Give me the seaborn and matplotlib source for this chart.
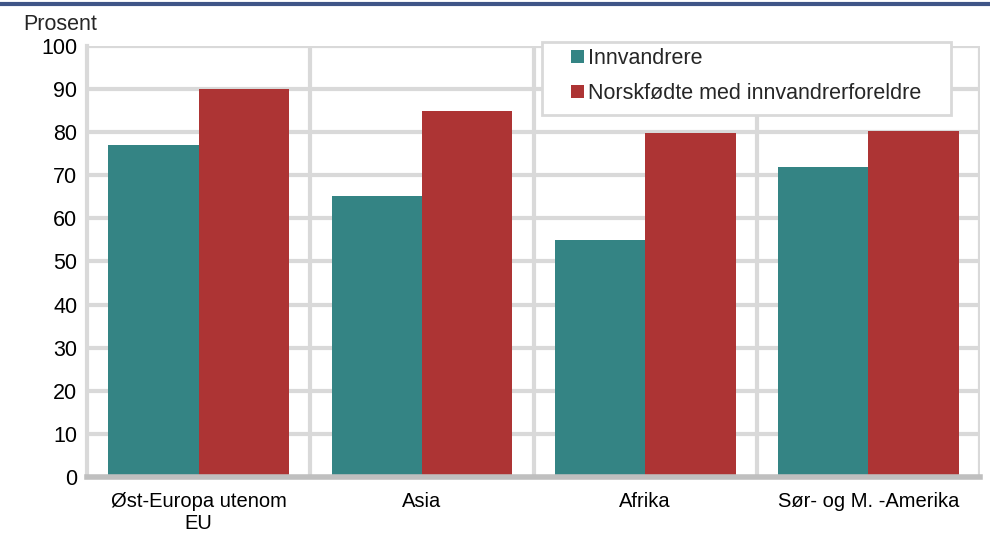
import pandas as pd
import matplotlib.pyplot as plt
import seaborn as sns
from matplotlib.lines import Line2D
from matplotlib.patches import Rectangle

# Data
regions = ['Øst-Europa utenom\nEU', 'Asia', 'Afrika', 'Sør- og M. -Amerika']
innvandrere = [77.0, 65.2, 55.0, 71.9]
norskfodte = [90.0, 84.9, 79.8, 80.3]
series = ['Innvandrere', 'Norskfødte med innvandrerforeldre']
colors = ['#348484', '#ad3434']

df = pd.DataFrame({
    'Region': regions * 2,
    'Serie': [series[0]] * 4 + [series[1]] * 4,
    'Prosent': innvandrere + norskfodte,
})

sns.set_style('white')
plt.rcParams['font.family'] = ['Liberation Sans', 'DejaVu Sans']

fig = plt.figure(figsize=(9.9, 5.38), dpi=100)
ax = fig.add_axes([0.088, 0.1134, 0.902, 0.8011])

sns.barplot(data=df, x='Region', y='Prosent', hue='Serie', palette=colors,
            width=0.81, gap=0, saturation=1, linewidth=0, ax=ax, zorder=3)

ax.set_ylim(0, 100)
ax.set_xlim(-0.5, 3.5)
ax.set_yticks(range(0, 101, 10))
ax.set_xlabel('')
ax.set_ylabel('')

# grid: horizontal at ticks, vertical between categories
for y in range(10, 101, 10):
    ax.axhline(y, color='#d9d9d9', lw=3, zorder=1)
for x in [0.5, 1.5, 2.5, 3.5]:
    ax.axvline(x, color='#d9d9d9', lw=3, zorder=1)

for s in ['top', 'right']:
    ax.spines[s].set_visible(False)
ax.spines['left'].set_color('#d9d9d9')
ax.spines['left'].set_linewidth(3)
ax.spines['bottom'].set_color('#bfbfbf')
ax.spines['bottom'].set_linewidth(4)
ax.spines['bottom'].set_zorder(4)

ax.tick_params(axis='y', length=0, labelsize=15.5, colors='black', pad=7)
ax.tick_params(axis='x', length=0, labelsize=14.5, colors='black', pad=11)

ax.text(-0.072, 1.025, 'Prosent', transform=ax.transAxes, fontsize=15.5, ha='left', va='bottom')

# legend box drawn separately so its padding can match
box = Rectangle((0.5095, 0.840), 0.458, 0.169, transform=ax.transAxes,
                facecolor='white', edgecolor='#d9d9d9', lw=2, zorder=5, clip_on=False)
ax.add_patch(box)
leg = ax.legend(loc='upper left', bbox_to_anchor=(0.542, 0.995), fontsize=15.5,
                frameon=False, handlelength=0.6, handleheight=0.6, handletextpad=0.2,
                borderpad=0, labelspacing=0.65, borderaxespad=0)
leg.set_zorder(6)

# dark blue rule across top
fig.add_artist(Line2D([0, 1], [0.993, 0.993], color='#3f5587', lw=3, transform=fig.transFigure))

fig.savefig('out.png', dpi=100)
